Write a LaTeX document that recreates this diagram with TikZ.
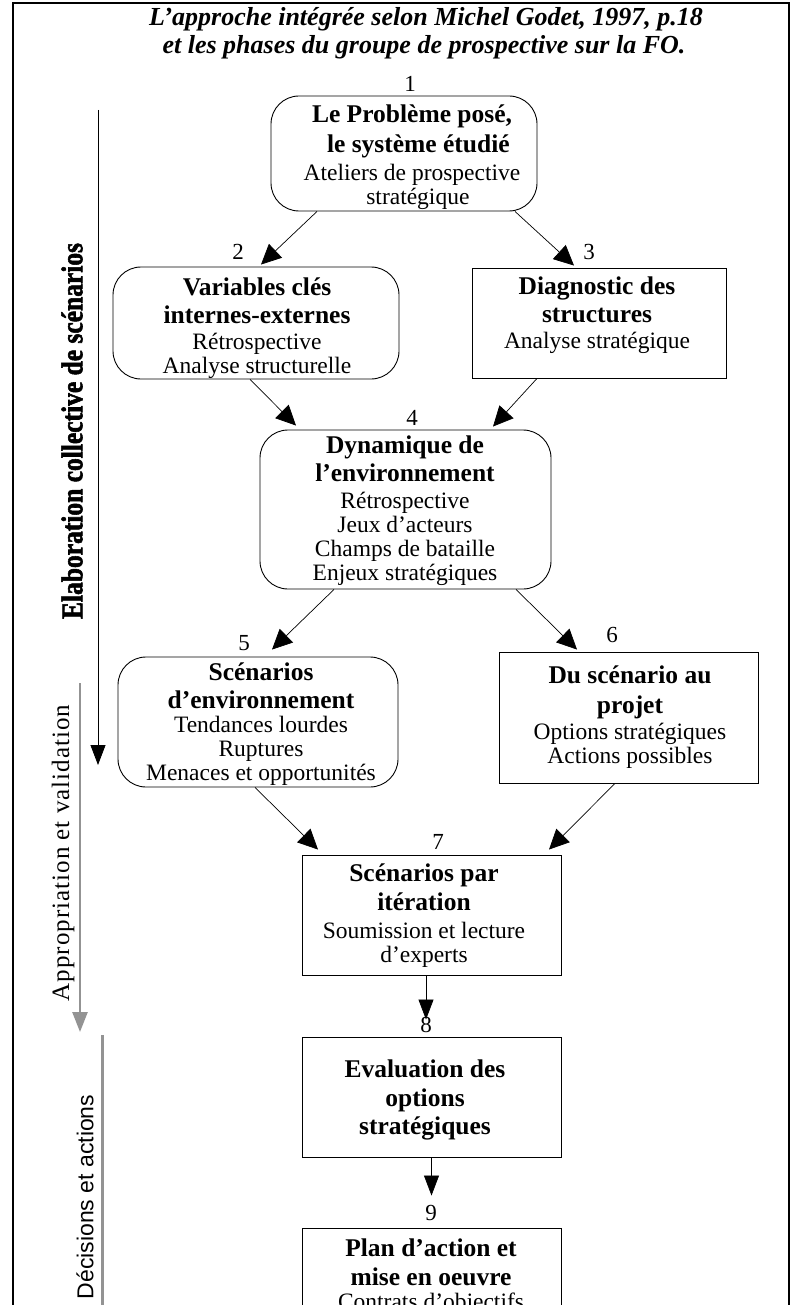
\documentclass[tikz,border=0pt]{standalone}
\usepackage{fontspec}
\setmainfont{Liberation Serif}
\newfontfamily\sansf{Liberation Sans}
\newfontface\heavyfont{Liberation Serif Bold}[FakeBold=1.8,FakeStretch=0.85]
\newfontface\sidefont{Liberation Serif}[LetterSpace=4]
\usetikzlibrary{arrows.meta,calc}
\newcommand\bt{\fontsize{25.5}{24}\selectfont\bfseries}
\newcommand\nt{\fontsize{23.5}{24}\selectfont}
\begin{document}
\begin{tikzpicture}[x=1pt,y=-1pt,
  box/.style={draw,line width=0.9pt,inner sep=0pt},
  rbox/.style={box,rounded corners=28pt},
  arr/.style={-{Triangle[length=20pt,width=19pt]},line width=0.7pt},
  varr/.style={-{Triangle[length=20pt,width=15pt]},line width=0.7pt},
  num/.style={font=\fontsize{23}{24}\selectfont,inner sep=0pt},
  txt/.style={align=center,inner sep=0pt,font=\nt},
  side/.style={rotate=90,inner sep=0pt}]
\useasboundingbox (0,0) rectangle (792,1305);
\clip (0,0) rectangle (792,1305);
% frame
\draw[line width=1.5pt] (13,1310) -- (13,3) -- (789,3) -- (789,1310);
% title
\node[inner sep=0pt,font=\fontsize{26}{28}\selectfont\bfseries\itshape] (title1) at (426,19) {L’approche intégrée selon Michel Godet, 1997, p.18};
\node[inner sep=0pt,font=\fontsize{26}{28}\selectfont\bfseries\itshape] (title2) at (424,47) {et les phases du groupe de prospective sur la FO.};
% boxes
\node[rbox,minimum width=266pt,minimum height=115pt] (b1) at (404,153.5) {};
\node[rbox,minimum width=286pt,minimum height=112pt] (b2) at (256,323) {};
\node[box,minimum width=254pt,minimum height=110pt] (b3) at (599,323) {};
\node[rbox,minimum width=291pt,minimum height=159pt] (b4) at (405.5,509.5) {};
\node[rbox,minimum width=280pt,minimum height=130pt] (b5) at (258,722) {};
\node[box,minimum width=259pt,minimum height=131pt] (b6) at (628.5,717.5) {};
\node[box,minimum width=259pt,minimum height=120pt] (b7) at (431.5,915) {};
\node[box,minimum width=259pt,minimum height=120pt] (b8) at (431.5,1097) {};
\node[box,minimum width=259pt,minimum height=130pt] (b9) at (431.5,1293) {};
% texts
\node[txt] (x1) at (412,157) {{\bt Le Problème posé,}\\[6pt] {\bt \ \ le système étudié}\\[4pt] Ateliers de prospective\\ \ \ stratégique};
\node[txt] (x2) at (257,328) {{\bt Variables clés}\\[4pt] {\bt internes-externes}\\[2pt] Rétrospective\\ Analyse structurelle};
\node[txt] (x3) at (597,315) {{\bt Diagnostic des}\\[4pt] {\bt structures}\\[2pt] Analyse stratégique};
\node[txt] (x4) at (405,511) {{\bt Dynamique de}\\[4pt] {\bt l’environnement}\\[3pt] Rétrospective\\ Jeux d’acteurs\\ Champs de bataille\\ Enjeux stratégiques};
\node[txt] (x5) at (261,724) {{\bt Scénarios}\\[4pt] {\bt d’environnement}\\ Tendances lourdes\\ Ruptures\\ Menaces et opportunités};
\node[txt] (x6) at (630,717) {{\bt Du scénario au}\\[6pt] {\bt projet}\\[2pt] Options stratégiques\\ Actions possibles};
\node[txt] (x7) at (424,915.5) {{\bt Scénarios par}\\[5pt] {\bt itération}\\[4pt] Soumission et lecture\\ d’experts};
\node[txt] (x8) at (425,1099.5) {{\bt Evaluation des}\\[5pt] {\bt options}\\[4pt] {\bt stratégiques}};
\node[txt,anchor=north] (x9) at (431,1239) {{\bt Plan d’action et}\\[5pt] {\bt mise en oeuvre}\\ Contrats d’objectifs};
% numbers
\node[num] (n1) at (410,84) {1};
\node[num] (n2) at (238,252) {2};
\node[num] (n3) at (589,252) {3};
\node[num] (n4) at (412,418) {4};
\node[num] (n5) at (244,643) {5};
\node[num] (n6) at (612,635) {6};
\node[num] (n7) at (438,842) {7};
\node[num] (n8) at (426,1025) {8};
\node[num] (n9) at (431,1213) {9};
% connectors
\draw[arr] ([xshift=-87pt]b1.south) -- ([xshift=5pt,yshift=2pt]b2.north);
\draw[arr] ([xshift=111pt]b1.south) -- ([xshift=-25pt,yshift=2pt]b3.north);
\draw[arr] ([xshift=-6pt]b2.south) -- ([xshift=-109.5pt,yshift=4pt]b4.north);
\draw[arr] ([xshift=-62pt]b3.south) -- ([xshift=87.5pt,yshift=3pt]b4.north);
\draw[arr] ([xshift=-71.5pt]b4.south) -- ([xshift=14pt,yshift=7pt]b5.north);
\draw[arr] ([xshift=110.5pt]b4.south) -- ([xshift=-51.5pt,yshift=2pt]b6.north);
\draw[arr] ([xshift=-3pt]b5.south) -- ([xshift=-113.5pt,yshift=5pt]b7.north);
\draw[arr] ([xshift=-13.5pt]b6.south) -- ([xshift=117.5pt,yshift=5pt]b7.north);
\draw[varr] ([xshift=-5.5pt]b7.south) -- ([xshift=-5.5pt,yshift=17pt]b8.north);
\draw[varr] (b8.south) -- ([yshift=32pt]b9.north);
% side phases
\coordinate (p1s) at (98,110);
\coordinate (p1e) at (98,765);
\draw[-{Triangle[length=20pt,width=15pt]},line width=0.8pt] (p1s) -- (p1e);
\node[side,font=\fontsize{30}{30}\selectfont\heavyfont] (s1) at (72,431) {Elaboration collective de scénarios};
\coordinate (p2s) at (80,683);
\coordinate (p2e) at (80,1032);
\draw[-{Triangle[length=20pt,width=15pt]},line width=2.5pt,draw=gray!85,fill=gray!85] (p2s) -- (p2e);
\node[side,font=\fontsize{25}{26}\selectfont\sidefont] (s2) at (63,853) {Appropriation et validation};
\coordinate (p3s) at (102,1035);
\coordinate (p3e) at (102,1310);
\draw[line width=3pt,draw=gray!85] (p3s) -- (p3e);
\node[side,font=\fontsize{23}{24}\selectfont\sansf] (s3) at (85,1197) {Décisions et actions};
\end{tikzpicture}
\end{document}
